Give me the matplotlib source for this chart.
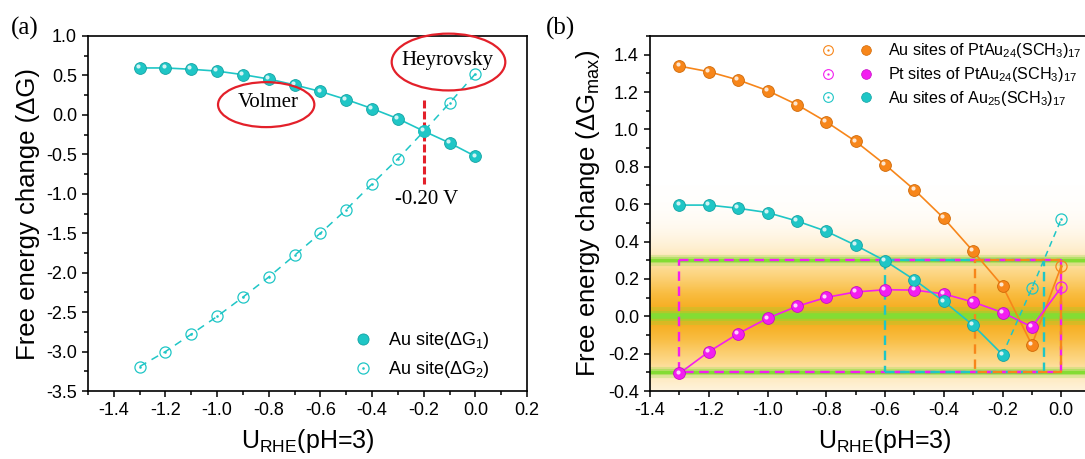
"""Free energy change vs U_RHE for Au25 / PtAu24 thiolate clusters (HER steps)."""

import matplotlib

matplotlib.use("Agg")
import matplotlib.pyplot as plt
import matplotlib.transforms as mtransforms
import numpy as np
from matplotlib.colors import LinearSegmentedColormap
from matplotlib.legend_handler import HandlerTuple
from matplotlib.lines import Line2D
from matplotlib.patches import Ellipse
from matplotlib.path import Path
from matplotlib.ticker import FixedLocator, FormatStrFormatter, MultipleLocator

plt.rcParams["font.family"] = ["Liberation Sans", "DejaVu Sans"]
plt.rcParams["mathtext.fontset"] = "custom"
plt.rcParams["mathtext.rm"] = "Liberation Sans"
plt.rcParams["mathtext.default"] = "regular"
SERIF = ["Liberation Serif", "DejaVu Serif"]

# potential grid (V vs RHE, pH = 3)
U = [-1.3, -1.2, -1.1, -1.0, -0.9, -0.8, -0.7, -0.6, -0.5, -0.4, -0.3, -0.2, -0.1, 0.0]

# Au site of Au25(SCH3)17: Volmer (dG1) and Heyrovsky (dG2) steps
DG1_AU25 = [0.595, 0.595, 0.578, 0.555, 0.510, 0.455, 0.380, 0.297, 0.195, 0.080,
            -0.048, -0.205, -0.355, -0.525]
DG2_AU25 = [-3.19, -3.00, -2.78, -2.555, -2.31, -2.055, -1.78, -1.50, -1.20, -0.875,
            -0.557, -0.210, 0.150, 0.520]

# PtAu24(SCH3)17: dG_max, filled points -1.3..-0.1 V, open point at 0.0 V
U_FILLED = U[:-1]
U_OPEN = U[-1:]
PTAU_AU_FILLED = [1.339, 1.309, 1.265, 1.208, 1.133, 1.041, 0.936, 0.812, 0.677, 0.525,
                  0.348, 0.163, -0.153]
PTAU_AU_OPEN = [0.268]
PTAU_PT_FILLED = [-0.306, -0.190, -0.093, -0.011, 0.053, 0.101, 0.130, 0.142, 0.140,
                  0.120, 0.076, 0.020, -0.057]
PTAU_PT_OPEN = [0.154]

# thermoneutral band and the potential windows that stay inside it
BAND_LEVELS = [-0.3, 0.0, 0.3]
WINDOW_PT = (-1.3, 0.0)
WINDOW_AU25 = (-0.6, -0.06)
WINDOW_AU = (-0.295, 0.0)

XTICKS_B = [-1.4, -1.2, -1.0, -0.8, -0.6, -0.4, -0.2, 0.0]

CYAN, CYAN_EDGE = "#1fc6c6", "#12a3a3"
ORANGE, ORANGE_EDGE = "#f7861a", "#d06a08"
MAGENTA, MAGENTA_EDGE = "#f31ef0", "#c40fc4"
RED = "#e3202a"
GREEN = "#84dc34"

# open circle with a small centre dot
_ring = Path.unit_circle()
_dot = Path.circle(radius=0.12)
OPEN_MARKER = Path.make_compound_path(_ring, _dot)


def balls(ax, x, y, color, edge, ms=8.5):
    """Filled markers with a small highlight so they read as spheres."""
    ax.plot(x, y, ls="none", marker="o", ms=ms, mfc=color, mec=edge, mew=0.6, zorder=5)
    hl = mtransforms.offset_copy(ax.transData, fig=ax.figure, x=-1.3, y=1.3, units="points")
    ax.plot(x, y, ls="none", marker="o", ms=ms * 0.35, mfc="white", mec="none",
            alpha=0.8, transform=hl, zorder=6)


def rings(ax, x, y, color, ms=8.0):
    ax.plot(x, y, ls="none", marker=OPEN_MARKER, ms=ms, mfc="none", mec=color,
            mew=0.9, zorder=5)


def style_axes(ax):
    ax.tick_params(which="both", direction="out", top=False, right=False,
                   labelsize=13, width=1.1)
    ax.tick_params(which="major", length=4.5)
    ax.tick_params(which="minor", length=3)
    for sp in ax.spines.values():
        sp.set_linewidth(1.2)


fig = plt.figure(figsize=(10.85, 4.59), dpi=100)
W, H = 1085.0, 459.0
ax_a = fig.add_axes([88 / W, 68 / H, 439 / W, 355 / H])
ax_b = fig.add_axes([650 / W, 68 / H, 470 / W, 355 / H])

# ---------------- (a) ----------------
ax_a.plot(U, DG1_AU25, color=CYAN, lw=1.2, zorder=3)
ax_a.plot(U, DG2_AU25, color=CYAN, lw=1.1, dashes=(5, 4), zorder=3)
balls(ax_a, U, DG1_AU25, CYAN, CYAN_EDGE)
rings(ax_a, U, DG2_AU25, CYAN)

ax_a.set_xlim(-1.5, 0.2)
ax_a.set_ylim(-3.5, 1.0)
ax_a.xaxis.set_major_locator(MultipleLocator(0.2))
ax_a.xaxis.set_minor_locator(MultipleLocator(0.1))
ax_a.yaxis.set_major_locator(MultipleLocator(0.5))
ax_a.yaxis.set_minor_locator(MultipleLocator(0.25))
ax_a.xaxis.set_major_formatter(FormatStrFormatter("%.1f"))
ax_a.yaxis.set_major_formatter(FormatStrFormatter("%.1f"))
style_axes(ax_a)
ax_a.set_xlabel("U$_{RHE}$(pH=3)", fontsize=18, labelpad=6)
ax_a.set_ylabel("Free energy change (ΔG)", fontsize=18.5, labelpad=4)

# step annotations
ax_a.add_patch(Ellipse((-0.81, 0.13), 0.373, 0.57, fill=False, ec=RED, lw=1.6, zorder=7))
ax_a.text(-0.80, 0.16, "Volmer", family=SERIF, fontsize=15, ha="center", va="center",
          zorder=8)
ax_a.add_patch(Ellipse((-0.104, 0.67), 0.44, 0.72, fill=False, ec=RED, lw=1.6,
                       clip_on=False, zorder=7))
ax_a.text(-0.11, 0.69, "Heyrovsky", family=SERIF, fontsize=15, ha="center",
          va="center", zorder=8)
ax_a.plot([-0.2, -0.2], [0.19, -0.877], color=RED, lw=2.2, dashes=(2.6, 1.0), zorder=4)
ax_a.text(-0.19, -1.07, "-0.20 V", family=SERIF, fontsize=15, ha="center", va="center")

leg_a_handles = [
    Line2D([], [], ls="none", marker="o", ms=8, mfc=CYAN, mec=CYAN_EDGE, mew=0.6),
    Line2D([], [], ls="none", marker=OPEN_MARKER, ms=8, mfc="none", mec=CYAN, mew=0.9),
]
ax_a.legend(leg_a_handles, ["Au site(ΔG$_1$)", "Au site(ΔG$_2$)"], loc="lower left",
            bbox_to_anchor=(0.605, 0.03), frameon=False, fontsize=13, handlelength=1.0,
            handletextpad=0.9, labelspacing=0.45, borderpad=0, borderaxespad=0)

ax_a.text(-0.145, 1.02, "(a)", transform=ax_a.transAxes, family=SERIF, fontsize=18,
          ha="center", va="center")

# ---------------- (b) ----------------
XB = (-1.4, 0.2)
YB = (-0.4, 1.5)

# orange glow around the thermoneutral line
yy = np.linspace(YB[0], YB[1], 800)
glow = np.exp(-(np.abs(yy) / 0.24) ** 1.6)
band_cmap = LinearSegmentedColormap.from_list(
    "band", [(0.0, "#ffffff"), (0.1, "#fff3dc"), (0.35, "#fdd98c"),
             (0.7, "#f9be44"), (1.0, "#f6ab1a")])
ax_b.imshow(glow[:, None], extent=[XB[0], XB[1], YB[0], YB[1]], origin="lower",
            aspect="auto", cmap=band_cmap, vmin=0, vmax=1, zorder=0)

for lvl in BAND_LEVELS:
    wide = 13 if lvl == 0.0 else 8
    core = 4.0 if lvl == 0.0 else 2.2
    ax_b.axhline(lvl, color=GREEN, lw=wide, alpha=0.25, zorder=1)
    ax_b.axhline(lvl, color=GREEN, lw=wide * 0.55, alpha=0.45, zorder=1)
    ax_b.axhline(lvl, color=GREEN, lw=core, zorder=1)

lo, hi = BAND_LEVELS[0], BAND_LEVELS[-1]
rect_dash = dict(lw=1.7, dashes=(4, 2.4), zorder=2)
x0, x1 = WINDOW_PT
ax_b.plot([x0, x1, x1, x0, x0], [hi, hi, lo, lo, hi], color=MAGENTA, **rect_dash)
x0, x1 = WINDOW_AU25
ax_b.plot([x0, x0], [hi, lo], color=CYAN, **rect_dash)
ax_b.plot([x1, x1], [lo, hi], color=CYAN, **rect_dash)
ax_b.plot([x0, x1], [hi, hi], color=CYAN, gapcolor=MAGENTA, **rect_dash)
ax_b.plot([x0, x1], [lo, lo], color=CYAN, gapcolor=MAGENTA, **rect_dash)
x0, x1 = WINDOW_AU
ax_b.plot([x0, x1, x1, x0, x0], [hi, hi, lo, lo, hi], color=ORANGE, **rect_dash)

# Au sites of PtAu24
ax_b.plot(U_FILLED + U_OPEN, PTAU_AU_FILLED + PTAU_AU_OPEN, color=ORANGE, lw=1.2, zorder=3)
balls(ax_b, U_FILLED, PTAU_AU_FILLED, ORANGE, ORANGE_EDGE)
rings(ax_b, U_OPEN, PTAU_AU_OPEN, ORANGE)

# Pt sites of PtAu24
ax_b.plot(U_FILLED + U_OPEN, PTAU_PT_FILLED + PTAU_PT_OPEN, color=MAGENTA, lw=1.2, zorder=3)
balls(ax_b, U_FILLED, PTAU_PT_FILLED, MAGENTA, MAGENTA_EDGE)
rings(ax_b, U_OPEN, PTAU_PT_OPEN, MAGENTA)

# Au sites of Au25: the larger of the two steps limits the reaction
dg1 = np.array(DG1_AU25)
dg2 = np.array(DG2_AU25)
u = np.array(U)
volmer = dg1 >= dg2
dgmax = np.maximum(dg1, dg2)
last_v = np.where(volmer)[0].max()
ax_b.plot(u[: last_v + 1], dgmax[: last_v + 1], color=CYAN, lw=1.2, zorder=3)
ax_b.plot(u[last_v:], dgmax[last_v:], color=CYAN, lw=1.1, dashes=(4, 3), zorder=3)
balls(ax_b, u[volmer], dgmax[volmer], CYAN, CYAN_EDGE)
rings(ax_b, u[~volmer], dgmax[~volmer], CYAN)

ax_b.set_xlim(*XB)
ax_b.set_ylim(*YB)
ax_b.xaxis.set_major_locator(FixedLocator(XTICKS_B))
ax_b.xaxis.set_minor_locator(MultipleLocator(0.1))
ax_b.yaxis.set_major_locator(MultipleLocator(0.2))
ax_b.yaxis.set_minor_locator(MultipleLocator(0.1))
ax_b.xaxis.set_major_formatter(FormatStrFormatter("%.1f"))
ax_b.yaxis.set_major_formatter(FormatStrFormatter("%.1f"))
style_axes(ax_b)
ax_b.set_xlabel("U$_{RHE}$(pH=3)", fontsize=18, labelpad=6)
ax_b.set_ylabel("Free energy change (ΔG$_{max}$)", fontsize=18.5, labelpad=4)


def pair(color, edge):
    op = Line2D([], [], ls="none", marker=OPEN_MARKER, ms=7, mfc="none", mec=color, mew=0.8)
    fl = Line2D([], [], ls="none", marker="o", ms=7, mfc=color, mec=edge, mew=0.5)
    return (op, fl)


ax_b.legend(
    [pair(ORANGE, ORANGE_EDGE), pair(MAGENTA, MAGENTA_EDGE), pair(CYAN, CYAN_EDGE)],
    ["Au sites of PtAu$_{24}$(SCH$_3$)$_{17}$",
     "Pt sites of PtAu$_{24}$(SCH$_3$)$_{17}$",
     "Au sites of Au$_{25}$(SCH$_3$)$_{17}$"],
    handler_map={tuple: HandlerTuple(ndivide=None, pad=1.2)},
    loc="upper left", bbox_to_anchor=(0.36, 0.985), frameon=False, fontsize=11.6,
    handlelength=3.45, handletextpad=0.8, labelspacing=0.3, borderpad=0,
    borderaxespad=0)

ax_b.text(-0.19, 1.02, "(b)", transform=ax_b.transAxes, family=SERIF, fontsize=18,
          ha="center", va="center")

fig.savefig("out.png", dpi=100)
